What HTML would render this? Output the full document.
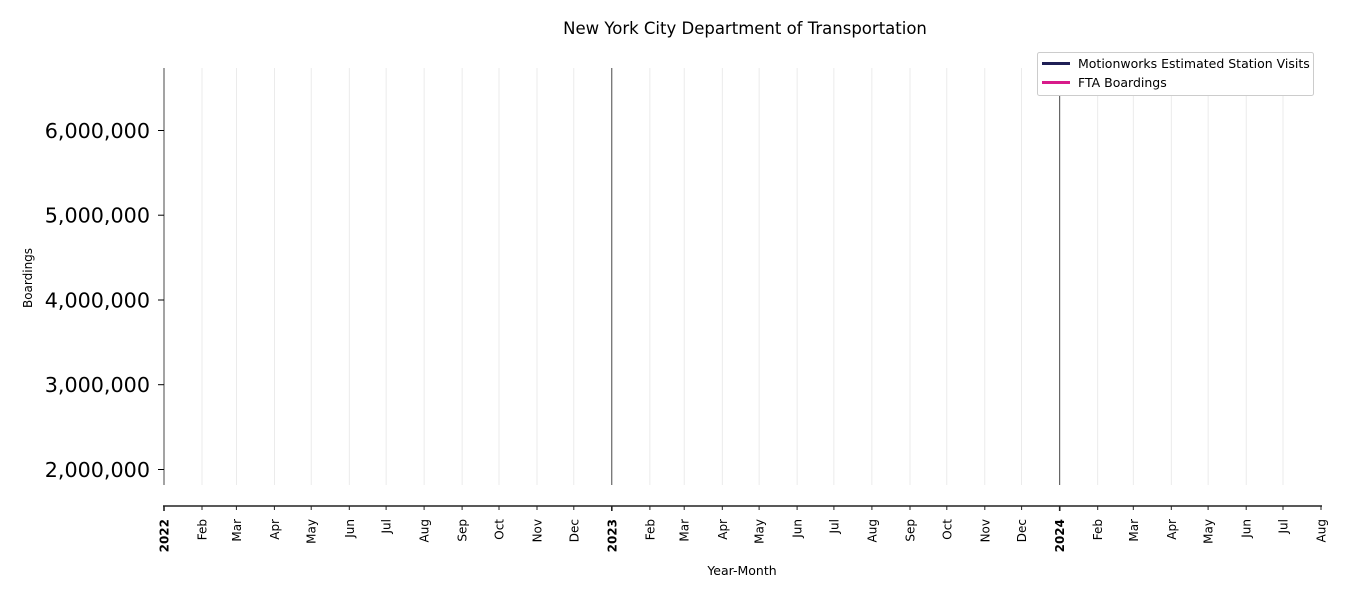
<!DOCTYPE html>
<html><head><meta charset="utf-8"><style>
html,body{margin:0;padding:0;background:#fff;}
svg{display:block;font-family:"DejaVu Sans","Liberation Sans",sans-serif;}
</style></head><body>
<svg width="1350" height="600" viewBox="0 0 1350 600" xmlns="http://www.w3.org/2000/svg">
<text x="745" y="34" font-size="16.5" text-anchor="middle" fill="#000">New York City Department of Transportation</text>
<g stroke="#e6e6e6" stroke-width="0.8">
<line x1="202" y1="68" x2="202" y2="485"/><line x1="236.4" y1="68" x2="236.4" y2="485"/><line x1="274.4" y1="68" x2="274.4" y2="485"/><line x1="311.2" y1="68" x2="311.2" y2="485"/><line x1="349.3" y1="68" x2="349.3" y2="485"/><line x1="386.1" y1="68" x2="386.1" y2="485"/><line x1="424.1" y1="68" x2="424.1" y2="485"/><line x1="462.1" y1="68" x2="462.1" y2="485"/><line x1="499" y1="68" x2="499" y2="485"/><line x1="537" y1="68" x2="537" y2="485"/><line x1="573.8" y1="68" x2="573.8" y2="485"/>
<line x1="649.9" y1="68" x2="649.9" y2="485"/><line x1="684.2" y1="68" x2="684.2" y2="485"/><line x1="722.3" y1="68" x2="722.3" y2="485"/><line x1="759.1" y1="68" x2="759.1" y2="485"/><line x1="797.1" y1="68" x2="797.1" y2="485"/><line x1="833.9" y1="68" x2="833.9" y2="485"/><line x1="871.9" y1="68" x2="871.9" y2="485"/><line x1="910" y1="68" x2="910" y2="485"/><line x1="946.8" y1="68" x2="946.8" y2="485"/><line x1="984.8" y1="68" x2="984.8" y2="485"/><line x1="1021.6" y1="68" x2="1021.6" y2="485"/>
<line x1="1097.7" y1="68" x2="1097.7" y2="485"/><line x1="1133.3" y1="68" x2="1133.3" y2="485"/><line x1="1171.3" y1="68" x2="1171.3" y2="485"/><line x1="1208.1" y1="68" x2="1208.1" y2="485"/><line x1="1246.2" y1="68" x2="1246.2" y2="485"/><line x1="1283" y1="68" x2="1283" y2="485"/>
</g>
<g stroke="#333" stroke-width="0.9">
<line x1="164" y1="68" x2="164" y2="485"/>
<line x1="611.8" y1="68" x2="611.8" y2="485"/>
<line x1="1059.7" y1="68" x2="1059.7" y2="485"/>
</g>
<g stroke="#000" stroke-width="1">
<line x1="158" y1="130.5" x2="164" y2="130.5"/><line x1="158" y1="215.2" x2="164" y2="215.2"/><line x1="158" y1="300" x2="164" y2="300"/><line x1="158" y1="384.7" x2="164" y2="384.7"/><line x1="158" y1="469.5" x2="164" y2="469.5"/>
</g>
<g font-size="20.7" text-anchor="end" fill="#000">
<text x="150" y="138">6,000,000</text><text x="150" y="222.5">5,000,000</text><text x="150" y="307.5">4,000,000</text><text x="150" y="392">3,000,000</text><text x="150" y="477">2,000,000</text>
</g>
<text transform="translate(32,278) rotate(-90)" font-size="12" text-anchor="middle">Boardings</text>
<line x1="163" y1="506" x2="1322" y2="506" stroke="#222" stroke-width="1.6"/>
<g stroke="#222" stroke-width="1">
<line x1="164" y1="506" x2="164" y2="511" stroke-width="1.6"/><line x1="202" y1="506" x2="202" y2="510"/><line x1="236.4" y1="506" x2="236.4" y2="510"/><line x1="274.4" y1="506" x2="274.4" y2="510"/><line x1="311.2" y1="506" x2="311.2" y2="510"/><line x1="349.3" y1="506" x2="349.3" y2="510"/><line x1="386.1" y1="506" x2="386.1" y2="510"/><line x1="424.1" y1="506" x2="424.1" y2="510"/><line x1="462.1" y1="506" x2="462.1" y2="510"/><line x1="499" y1="506" x2="499" y2="510"/><line x1="537" y1="506" x2="537" y2="510"/><line x1="573.8" y1="506" x2="573.8" y2="510"/><line x1="611.8" y1="506" x2="611.8" y2="511" stroke-width="1.6"/>
<line x1="649.9" y1="506" x2="649.9" y2="510"/><line x1="684.2" y1="506" x2="684.2" y2="510"/><line x1="722.3" y1="506" x2="722.3" y2="510"/><line x1="759.1" y1="506" x2="759.1" y2="510"/><line x1="797.1" y1="506" x2="797.1" y2="510"/><line x1="833.9" y1="506" x2="833.9" y2="510"/><line x1="871.9" y1="506" x2="871.9" y2="510"/><line x1="910" y1="506" x2="910" y2="510"/><line x1="946.8" y1="506" x2="946.8" y2="510"/><line x1="984.8" y1="506" x2="984.8" y2="510"/><line x1="1021.6" y1="506" x2="1021.6" y2="510"/><line x1="1059.7" y1="506" x2="1059.7" y2="511" stroke-width="1.6"/>
<line x1="1097.7" y1="506" x2="1097.7" y2="510"/><line x1="1133.3" y1="506" x2="1133.3" y2="510"/><line x1="1171.3" y1="506" x2="1171.3" y2="510"/><line x1="1208.1" y1="506" x2="1208.1" y2="510"/><line x1="1246.2" y1="506" x2="1246.2" y2="510"/><line x1="1283" y1="506" x2="1283" y2="510"/><line x1="1321" y1="506" x2="1321" y2="510"/>
</g>
<g font-size="12" text-anchor="end" fill="#000">
<text transform="translate(168.5,519) rotate(-90)" font-weight="bold">2022</text>
<text transform="translate(206.5,519) rotate(-90)">Feb</text>
<text transform="translate(240.9,519) rotate(-90)">Mar</text>
<text transform="translate(278.9,519) rotate(-90)">Apr</text>
<text transform="translate(315.7,519) rotate(-90)">May</text>
<text transform="translate(353.8,519) rotate(-90)">Jun</text>
<text transform="translate(390.6,519) rotate(-90)">Jul</text>
<text transform="translate(428.6,519) rotate(-90)">Aug</text>
<text transform="translate(466.6,519) rotate(-90)">Sep</text>
<text transform="translate(503.5,519) rotate(-90)">Oct</text>
<text transform="translate(541.5,519) rotate(-90)">Nov</text>
<text transform="translate(578.3,519) rotate(-90)">Dec</text>
<text transform="translate(616.3,519) rotate(-90)" font-weight="bold">2023</text>
<text transform="translate(654.4,519) rotate(-90)">Feb</text>
<text transform="translate(688.7,519) rotate(-90)">Mar</text>
<text transform="translate(726.8,519) rotate(-90)">Apr</text>
<text transform="translate(763.6,519) rotate(-90)">May</text>
<text transform="translate(801.6,519) rotate(-90)">Jun</text>
<text transform="translate(838.4,519) rotate(-90)">Jul</text>
<text transform="translate(876.4,519) rotate(-90)">Aug</text>
<text transform="translate(914.5,519) rotate(-90)">Sep</text>
<text transform="translate(951.3,519) rotate(-90)">Oct</text>
<text transform="translate(989.3,519) rotate(-90)">Nov</text>
<text transform="translate(1026.1,519) rotate(-90)">Dec</text>
<text transform="translate(1064.2,519) rotate(-90)" font-weight="bold">2024</text>
<text transform="translate(1102.2,519) rotate(-90)">Feb</text>
<text transform="translate(1137.8,519) rotate(-90)">Mar</text>
<text transform="translate(1175.8,519) rotate(-90)">Apr</text>
<text transform="translate(1212.6,519) rotate(-90)">May</text>
<text transform="translate(1250.7,519) rotate(-90)">Jun</text>
<text transform="translate(1287.5,519) rotate(-90)">Jul</text>
<text transform="translate(1325.5,519) rotate(-90)">Aug</text>
</g>
<text x="742" y="575" font-size="12.5" text-anchor="middle">Year-Month</text>
<rect x="1037.5" y="52.5" width="276" height="43" rx="2" fill="#fff" stroke="#ccc" stroke-width="1"/>
<line x1="1042" y1="63.5" x2="1070" y2="63.5" stroke="#1f1f55" stroke-width="3"/>
<line x1="1042" y1="82.5" x2="1070" y2="82.5" stroke="#d81b8a" stroke-width="3"/>
<text x="1078" y="68" font-size="12.5">Motionworks Estimated Station Visits</text>
<text x="1078" y="87" font-size="12.5">FTA Boardings</text>
</svg>
</body></html>
